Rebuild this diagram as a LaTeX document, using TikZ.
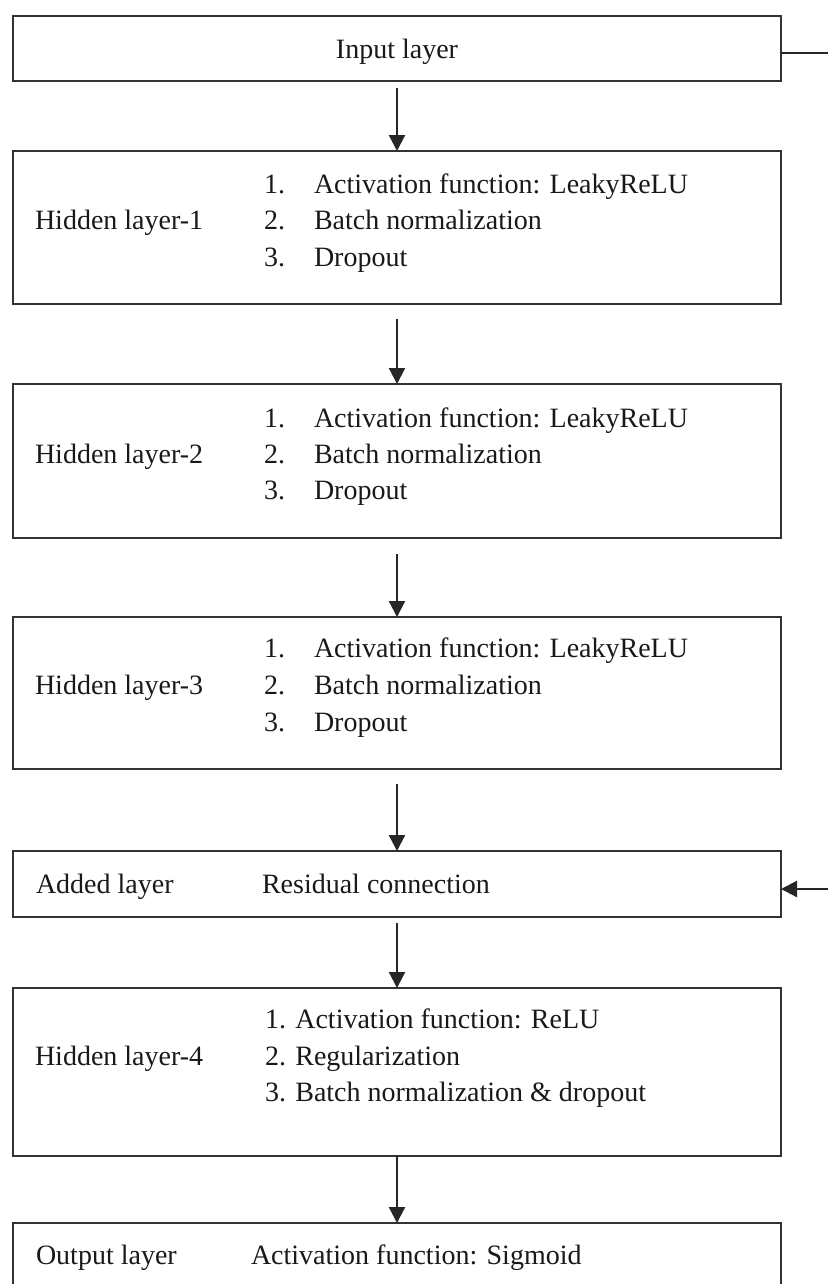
\documentclass[tikz,border=0pt]{standalone}
\usepackage{fontspec}
\setmainfont{Liberation Serif}
\usetikzlibrary{arrows.meta}
\begin{document}
\begin{tikzpicture}[x=0.5pt,y=-0.5pt,
  box/.style={draw=black!80, line width=1.2pt, fill=none, inner sep=0pt, outer sep=0pt, minimum width=384pt},
  txt/.style={anchor=base west, inner sep=0pt, outer sep=0pt, text=black!90, font=\fontsize{14}{17}\selectfont},
  ctxt/.style={anchor=base, inner sep=0pt, outer sep=0pt, text=black!90, font=\fontsize{14}{17}\selectfont},
  conn/.style={draw=black!85, line width=1.1pt},
  arr/.style={conn, -{Triangle[length=8pt,width=8pt]}}]
\useasboundingbox (0,0) rectangle (828,1284);
\clip (0,0) rectangle (828,1284);
\fill[white] (0,0) rectangle (828,1284);

% boxes
\node[box, minimum height=32.5pt] (in)  at (397,48.5) {};
\node[box, minimum height=76.5pt] (h1)  at (397,227.5) {};
\node[box, minimum height=77pt]   (h2)  at (397,461) {};
\node[box, minimum height=76pt]   (h3)  at (397,693) {};
\node[box, minimum height=33pt]   (add) at (397,884) {};
\node[box, minimum height=84pt]   (h4)  at (397,1072) {};
\node[box, minimum height=48.5pt] (out) at (397,1271.5) {};

% texts
\node[ctxt] (tin) at (397,59) {Input layer};

\node[txt] (l1) at (35,229) {Hidden layer-1};
\node[txt] (n11) at (264,193) {1.};
\node[txt] (n12) at (264,229) {2.};
\node[txt] (n13) at (264,266) {3.};
\node[txt] (t11) at (314,193) {Activation function: LeakyReLU};
\node[txt] (t12) at (314,229) {Batch normalization};
\node[txt] (t13) at (314,266) {Dropout};

\node[txt] (l2) at (35,463) {Hidden layer-2};
\node[txt] (n21) at (264,427) {1.};
\node[txt] (n22) at (264,463) {2.};
\node[txt] (n23) at (264,499) {3.};
\node[txt] (t21) at (314,427) {Activation function: LeakyReLU};
\node[txt] (t22) at (314,463) {Batch normalization};
\node[txt] (t23) at (314,499) {Dropout};

\node[txt] (l3) at (35,694) {Hidden layer-3};
\node[txt] (n31) at (264,657) {1.};
\node[txt] (n32) at (264,694) {2.};
\node[txt] (n33) at (264,731) {3.};
\node[txt] (t31) at (314,657) {Activation function: LeakyReLU};
\node[txt] (t32) at (314,694) {Batch normalization};
\node[txt] (t33) at (314,731) {Dropout};

\node[txt] (la) at (36,893) {Added layer};
\node[txt] (ta) at (262,893) {Residual connection};

\node[txt] (l4) at (35,1065) {Hidden layer-4};
\node[txt] (t41) at (265,1028) {1. Activation function: ReLU};
\node[txt] (t42) at (265,1065) {2. Regularization};
\node[txt] (t43) at (265,1101) {3. Batch normalization \& dropout};

\node[txt] (lo) at (36,1264) {Output layer};
\node[txt] (to) at (251,1264) {Activation function: Sigmoid};

% connectors
\draw[arr] ([yshift=-3.5pt]in.south) -- (h1.north);
\draw[arr] ([yshift=-7.5pt]h1.south) -- (h2.north);
\draw[arr] ([yshift=-8pt]h2.south) -- (h3.north);
\draw[arr] ([yshift=-7.5pt]h3.south) -- (add.north);
\draw[arr] ([yshift=-3pt]add.south) -- (h4.north);
\draw[arr] (h4.south) -- (out.north);

\coordinate (r1) at (830,53);
\coordinate (r2) at (830,889);
\draw[conn] (in.east |- r1) -- (r1);
\draw[arr] (r2) -- (add.east |- r2);
\end{tikzpicture}
\end{document}
